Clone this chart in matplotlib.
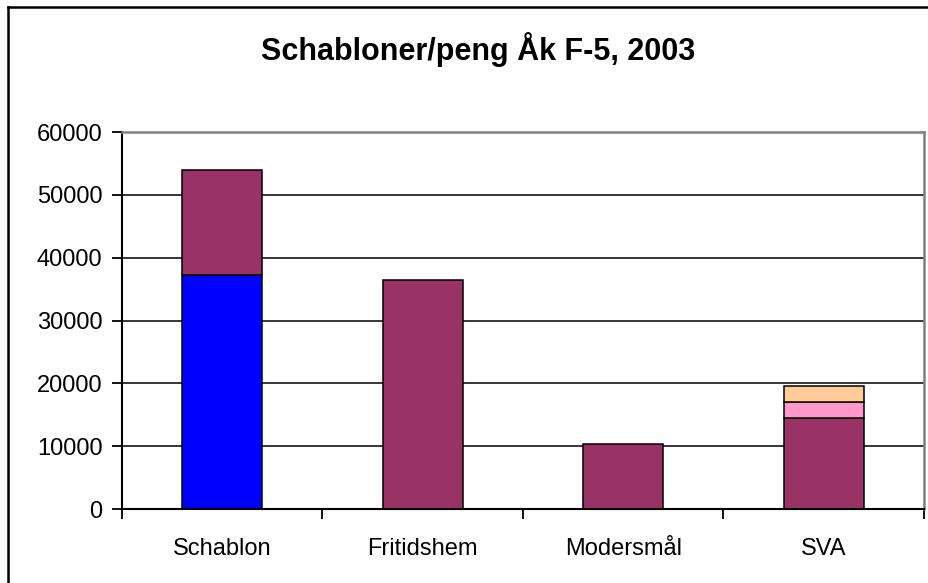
import matplotlib.pyplot as plt
from matplotlib.lines import Line2D

plt.rcParams['font.family'] = ['Liberation Sans', 'DejaVu Sans']

categories = ['Schablon', 'Fritidshem', 'Modersmål', 'SVA']
# stacked segments, bottom to top
blue_part = [37200, 0, 0, 0]
purple_part = [16800, 36500, 10300, 14500]
pink_part = [0, 0, 0, 2600]
orange_part = [0, 0, 0, 2500]
yticks = [0, 10000, 20000, 30000, 40000, 50000, 60000]

fig = plt.figure(figsize=(9.29, 5.83), dpi=100)
ax = fig.add_axes([122 / 929, 74 / 583, 802 / 929, 377 / 583])

x = list(range(len(categories)))
w = 0.4
edge = dict(edgecolor='black', linewidth=1.1)
bottom = [0] * len(x)
for vals, col in [(blue_part, '#0000FF'), (purple_part, '#993366'),
                  (pink_part, '#FF99CC'), (orange_part, '#FFCC99')]:
    xs = [xi for xi, v in zip(x, vals) if v > 0]
    bs = [b for b, v in zip(bottom, vals) if v > 0]
    hs = [v for v in vals if v > 0]
    ax.bar(xs, hs, width=w, bottom=bs, color=col, zorder=3, **edge)
    bottom = [b + v for b, v in zip(bottom, vals)]

ax.set_xlim(-0.5, len(categories) - 0.5)
ax.set_ylim(0, 60000)
ax.set_yticks(yticks)
ax.set_yticklabels([str(t) for t in yticks], fontsize=17)
ax.set_xticks(x)
ax.set_xticklabels(categories, fontsize=17)
ax.set_xticks([i - 0.5 for i in range(len(categories) + 1)], minor=True)
ax.tick_params(axis='x', which='major', length=0, pad=21)
ax.tick_params(axis='x', which='minor', length=7, width=1.3, color='black')
ax.tick_params(axis='y', length=7, width=1.3, pad=7)

ax.yaxis.grid(True, color='black', linewidth=1.1, zorder=1)
ax.set_axisbelow(True)
for s in ['left', 'bottom']:
    ax.spines[s].set_color('black')
    ax.spines[s].set_linewidth(1.5)
for s in ['top', 'right']:
    ax.spines[s].set_color('#808080')
    ax.spines[s].set_linewidth(1.8)
for s in ax.spines.values():
    s.set_zorder(5)

fig.text(478 / 929, 1 - 50 / 583, 'Schabloner/peng Åk F-5, 2003',
         ha='center', va='center', fontsize=22, fontweight='bold')

# outer chart frame (only top and left visible)
fig.add_artist(Line2D([8 / 929, 8 / 929], [0, 1 - 7 / 583], color='black', linewidth=1.8,
                      transform=fig.transFigure))
fig.add_artist(Line2D([8 / 929, 1], [1 - 7 / 583, 1 - 7 / 583], color='black', linewidth=1.8,
                      transform=fig.transFigure))

fig.savefig('out.png', dpi=100)
